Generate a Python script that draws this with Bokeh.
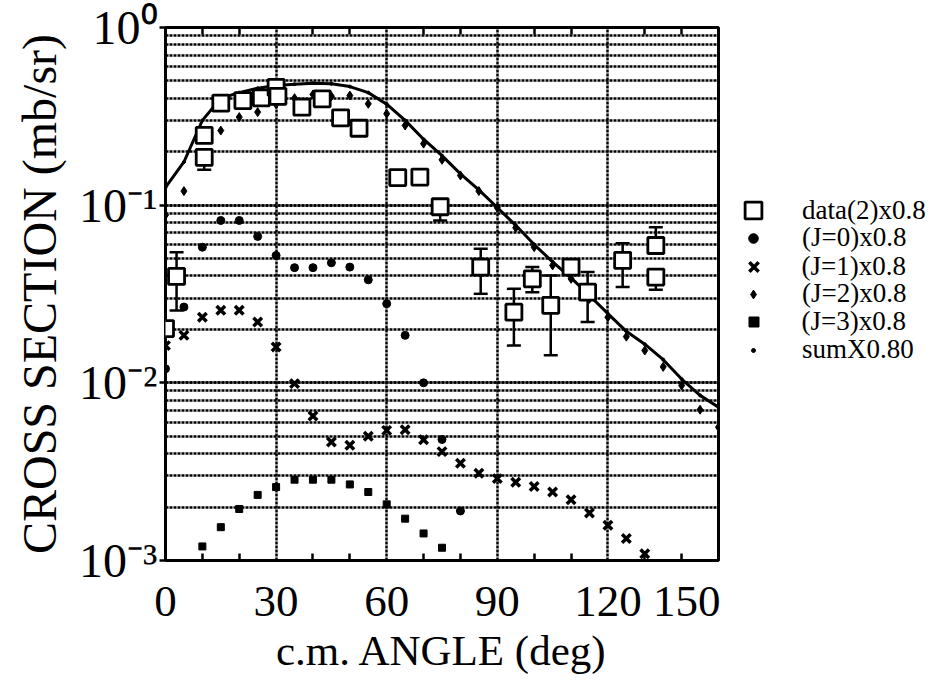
from bokeh.plotting import figure
from bokeh.layouts import row
from bokeh.models import (FixedTicker, LinearAxis, Legend, LegendItem, Whisker,
                          ColumnDataSource, Range1d, TeeHead, CustomJSTickFormatter)
from bokeh.embed import file_html
from bokeh.resources import INLINE

FONT = "Liberation Serif"

# measured data (data(2) x 0.8)
data_angle = [0, 3, 10.5, 10.5, 15, 21, 26, 30, 30.5, 37, 42.5, 47.5, 52.5,
              63, 69, 74.5, 85.5, 94.5, 99.5, 104.5, 110, 114.5, 124, 133, 133]
data_xs = [0.0202, 0.0397, 0.247, 0.186, 0.375, 0.388, 0.402, 0.46, 0.41, 0.356,
           0.397, 0.310, 0.271, 0.143, 0.144, 0.098, 0.0448, 0.025, 0.0385,
           0.0273, 0.0448, 0.0324, 0.0489, 0.0593, 0.0394]

# error bars of the measured data
err_angle = [3, 10.5, 74.5, 85.5, 94.5, 99.5, 104.5, 114.5, 124, 133, 133]
err_low = [0.0255, 0.158, 0.082, 0.0317, 0.0162, 0.0324, 0.0143, 0.022, 0.0346, 0.06, 0.0334]
err_high = [0.0544, 0.19, 0.1, 0.0568, 0.0338, 0.0448, 0.0402, 0.042, 0.061, 0.0752, 0.04]

# J = 0 component
j0_angle = [0, 5, 10, 15, 20, 25, 30, 35, 40, 45, 50, 55, 60, 65, 70, 75, 80]
j0_xs = [0.012, 0.0267, 0.058, 0.082, 0.082, 0.0667, 0.0521, 0.0445, 0.0445,
         0.0474, 0.0448, 0.038, 0.0279, 0.0185, 0.010, 0.0048, 0.0019]

# J = 1 component
j1_angle = [0, 5, 10, 15, 20, 25, 30, 35, 40, 45, 50, 55, 60, 65, 70, 75, 80,
            85, 90, 95, 100, 105, 110, 115, 120, 125, 130]
j1_xs = [0.0162, 0.0185, 0.0234, 0.0256, 0.0256, 0.022, 0.0159, 0.0099, 0.0065,
         0.00464, 0.00445, 0.005, 0.0054, 0.00544, 0.00478, 0.0041, 0.00353,
         0.0031, 0.00289, 0.00276, 0.00261, 0.00243, 0.0022, 0.00185, 0.00158,
         0.00133, 0.00109]

# J = 2 component
j2_angle = [0, 5, 10, 15, 20, 25, 30, 35, 40, 45, 50, 55, 60, 65, 70, 75, 80,
            85, 90, 95, 100, 105, 110, 115, 120, 125, 130, 135, 140, 145, 150]
j2_xs = [0.088, 0.12, 0.195, 0.263, 0.313, 0.334, 0.37, 0.40, 0.42, 0.41, 0.414,
         0.372, 0.327, 0.281, 0.222, 0.18, 0.147, 0.12, 0.0967, 0.0746, 0.058,
         0.0458, 0.0385, 0.0297, 0.0234, 0.0182, 0.0152, 0.0123, 0.00967,
         0.00706, 0.00563]

# J = 3 component
j3_angle = [10, 15, 20, 25, 30, 35, 40, 45, 50, 55, 60, 65, 70, 75]
j3_xs = [0.0012, 0.00154, 0.00195, 0.00234, 0.00259, 0.00285, 0.00285, 0.00285,
         0.00268, 0.00243, 0.00207, 0.00172, 0.00142, 0.00118]

# sum x 0.80 curve
sum_angle = [0, 5, 10, 15, 20, 25, 30, 35, 40, 45, 50, 55, 60, 65, 70, 75, 80,
             85, 90, 95, 100, 105, 110, 115, 120, 125, 130, 135, 140, 145, 150]
sum_xs = [0.126, 0.175, 0.30, 0.40, 0.43, 0.455, 0.472, 0.48, 0.486, 0.482, 0.465,
          0.43, 0.37, 0.30, 0.235, 0.19, 0.15, 0.122, 0.097, 0.077, 0.06, 0.048,
          0.039, 0.031, 0.0245, 0.0195, 0.0165, 0.0135, 0.0105, 0.0085, 0.0073]

x_major = [0, 30, 60, 90, 120, 150]
x_minor = [10, 20, 40, 50, 70, 80, 100, 110, 130, 140]
x_grid = [30, 60, 90, 120]

legend_labels = ["data(2)x0.8", "(J=0)x0.8", "(J=1)x0.8", "(J=2)x0.8",
                 "(J=3)x0.8", "sumX0.80"]

W, H = 944, 681
FL, FT, FW, FH = 165, 27, 553, 533
FB = FT + FH
MAIN_W = FL + FW + 2

p = figure(frame_width=FW, frame_height=FH, y_axis_type="log",
           x_range=Range1d(0, 150), y_range=Range1d(1e-3, 1),
           output_backend="svg", toolbar_location=None,
           min_border_left=FL, min_border_right=2,
           min_border_top=FT, min_border_bottom=H - FB)
p.background_fill_color = "white"
p.border_fill_color = "white"
p.outline_line_color = "black"
p.outline_line_width = 3

# grids (heavy dotted lines)
for g in (p.xgrid, p.ygrid):
    g.grid_line_color = "black"
    g.grid_line_width = 2.5
    g.grid_line_dash = "3 1"
p.xgrid.ticker = FixedTicker(ticks=x_grid)
p.ygrid.minor_grid_line_color = "black"
p.ygrid.minor_grid_line_width = 2.5
p.ygrid.minor_grid_line_dash = "3 1"

# x axis
xa = p.xaxis[0]
xa.ticker = FixedTicker(ticks=x_major, minor_ticks=x_minor)
xa.major_tick_in = 0
xa.major_tick_out = 0
xa.minor_tick_in = 7
xa.minor_tick_out = 0
xa.minor_tick_line_width = 2.5
xa.axis_line_color = None
xa.major_label_text_font = FONT
xa.major_label_text_font_size = "45px"
xa.major_label_text_color = "black"
xa.major_label_standoff = 26
xa.axis_label = "c.m. ANGLE (deg)"
xa.axis_label_text_font = FONT
xa.axis_label_text_font_size = "43px"
xa.axis_label_text_font_style = "normal"
xa.axis_label_text_color = "black"
xa.axis_label_standoff = 8

top = LinearAxis(ticker=FixedTicker(ticks=[], minor_ticks=x_minor),
                 axis_line_color=None, major_tick_in=0, major_tick_out=0,
                 minor_tick_in=7, minor_tick_out=0, minor_tick_line_width=2.5)
p.add_layout(top, "above")

# y axis: labels 10⁰, 10⁻¹, ...
ya = p.yaxis[0]
ya.formatter = CustomJSTickFormatter(code="""
    const sup = {"-": "\u207b", "0": "\u2070", "1": "\u00b9", "2": "\u00b2",
                 "3": "\u00b3", "4": "\u2074", "5": "\u2075", "6": "\u2076",
                 "7": "\u2077", "8": "\u2078", "9": "\u2079"};
    const e = String(Math.round(Math.log10(tick)));
    return "10" + e.split("").map((c) => sup[c]).join("");
""")
ya.major_tick_in = 0
ya.major_tick_out = 6
ya.major_tick_line_width = 2.5
ya.minor_tick_in = 0
ya.minor_tick_out = 0
ya.axis_line_color = None
ya.major_label_text_font = FONT
ya.major_label_text_font_size = "48px"
ya.major_label_text_color = "black"
ya.major_label_standoff = 2
ya.axis_label = "CROSS SECTION (mb/sr)"
ya.axis_label_text_font = FONT
ya.axis_label_text_font_size = "48px"
ya.axis_label_text_font_style = "normal"
ya.axis_label_text_color = "black"
ya.axis_label_standoff = 10

# styles shared by the plot and its legend
sum_style = dict(marker="circle", size=3, color="black")
j0_style = dict(marker="circle", size=8, color="black")
j1_style = dict(marker="x", size=12, line_width=3.5, line_color="black")
j2_style = dict(marker="diamond", size=9, color="black")
j3_style = dict(marker="square", size=7, color="black")
data_style = dict(marker="square", size=16, fill_color="white",
                  line_color="black", line_width=2.8)

# sum curve
p.line(sum_angle, sum_xs, line_width=3, line_color="black")
p.scatter(sum_angle, sum_xs, **sum_style)

# components
p.scatter(j0_angle, j0_xs, **j0_style)
p.scatter(j1_angle, j1_xs, **j1_style)
p.scatter(j2_angle, j2_xs, **j2_style)
p.scatter(j3_angle, j3_xs, **j3_style)

# error bars
err_src = ColumnDataSource(dict(x=err_angle, lo=err_low, hi=err_high))
whisk = Whisker(source=err_src, base="x", lower="lo", upper="hi",
                line_width=2.5, line_color="black",
                upper_head=TeeHead(size=14, line_width=2.5, line_color="black"),
                lower_head=TeeHead(size=14, line_width=2.5, line_color="black"))
p.add_layout(whisk)

# measured data
p.scatter(data_angle, data_xs, **data_style)

# ---- legend panel (a second figure; its frame is aligned with the plot frame) ----
LW = W - MAIN_W
lf = figure(width=LW, height=H, x_range=Range1d(-3, -2), y_range=Range1d(-3, -2),
            output_backend="svg", toolbar_location=None,
            x_axis_location=None, y_axis_location=None,
            min_border_left=0, min_border_right=0, min_border_top=0,
            min_border_bottom=0)
lf.grid.visible = False
lf.outline_line_color = None
lf.background_fill_color = "white"
lf.border_fill_color = "white"

# the legend symbols use the same series (they fall outside this panel's ranges)
leg_renderers = [
    lf.scatter(data_angle, data_xs, **data_style),
    lf.scatter(j0_angle, j0_xs, **j0_style),
    lf.scatter(j1_angle, j1_xs, **j1_style),
    lf.scatter(j2_angle, j2_xs, **j2_style),
    lf.scatter(j3_angle, j3_xs, **j3_style),
    lf.scatter(sum_angle, sum_xs, **sum_style),
]
glyph_box = [42, 24, 33, 22, 25, 10]          # symbol is drawn at 0.4 * box
row_center = [210, 238, 266, 294, 322, 350]   # page y of each row
GLYPH_CX, LABEL_X, TEXT_H = 753, 802, 30
for lab, r, g, cy in zip(legend_labels, leg_renderers, glyph_box, row_center):
    h = max(g, TEXT_H)
    lg = Legend(items=[LegendItem(label=lab, renderers=[r])],
                location=(GLYPH_CX - g / 2 - MAIN_W, FB - cy - h / 2))
    lg.label_text_font = FONT
    lg.label_text_font_size = "27px"
    lg.label_text_color = "black"
    lg.glyph_width = g
    lg.glyph_height = g
    lg.label_height = 20
    lg.label_standoff = int(LABEL_X - GLYPH_CX - g / 2)
    lg.padding = 0
    lg.margin = 0
    lg.spacing = 0
    lg.border_line_color = None
    lg.background_fill_alpha = 0
    lf.add_layout(lg)

layout = row(p, lf, spacing=0)
open("out.html", "w").write(file_html(layout, INLINE))
